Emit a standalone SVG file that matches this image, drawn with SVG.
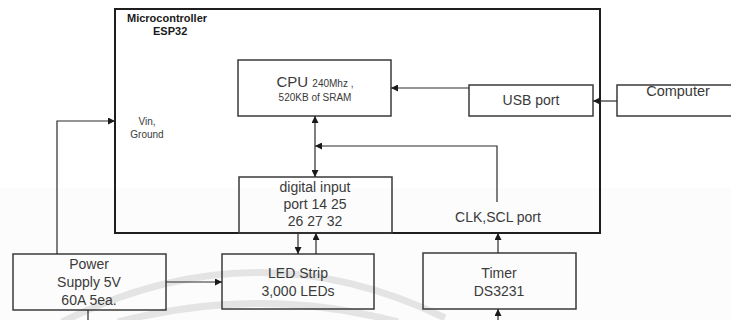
<svg xmlns="http://www.w3.org/2000/svg" width="731" height="320" viewBox="0 0 731 320">
<style>
.box{fill:none;stroke:#3a3a3a;stroke-width:1.5}
.mc{fill:none;stroke:#1e1e1e;stroke-width:2}
.ln{fill:none;stroke:#2a2a2a;stroke-width:1.2}
.t{font-family:"Liberation Sans",Arial,sans-serif;fill:#3a3a3a;text-anchor:middle}
.b{font-weight:bold;fill:#1a1a1a;text-anchor:start}
.wm{fill:none;stroke:#e4e4e4;stroke-width:7}
</style>
<defs>
<marker id="ah" viewBox="0 0 10 10" refX="10" refY="5" markerWidth="7" markerHeight="7" markerUnits="userSpaceOnUse" orient="auto">
<path d="M0,0 L10,5 L0,10 z" fill="#1a1a1a"/>
</marker>
</defs>
<rect width="731" height="320" fill="#ffffff"/>
<rect x="0" y="188" width="731" height="132" fill="#fcfcfc"/>
<g id="watermark">
<path class="wm" d="M62,322 Q255,225 445,318"/>
<path class="wm" d="M118,322 Q260,285 398,322"/>
</g>
<g id="microcontroller">
<rect class="mc" x="115" y="9" width="485" height="224"/>
<text class="t b" x="127" y="22" font-size="11">Microcontroller</text>
<text class="t b" x="153" y="35" font-size="11">ESP32</text>
<text class="t" x="147" y="125" font-size="10">Vin,</text>
<text class="t" x="147" y="138" font-size="10">Ground</text>
<text class="t" x="498" y="222" font-size="14">CLK,SCL port</text>
</g>
<g id="cpu">
<rect class="box" x="238" y="60" width="153" height="56" fill="#fff"/>
<text class="t" x="315" y="87"><tspan font-size="15">CPU </tspan><tspan font-size="10">240Mhz ,</tspan></text>
<text class="t" x="315" y="101" font-size="10">520KB of SRAM</text>
</g>
<g id="usb">
<rect class="box" x="469" y="85" width="124" height="31"/>
<text class="t" x="531" y="105" font-size="14">USB port</text>
</g>
<g id="computer">
<rect class="box" x="617" y="85" width="120" height="31"/>
<text class="t" x="678" y="96" font-size="14.5">Computer</text>
</g>
<g id="digital">
<rect class="box" x="239" y="177" width="153" height="56"/>
<text class="t" x="315" y="192" font-size="14">digital input</text>
<text class="t" x="315" y="209" font-size="14">port 14 25</text>
<text class="t" x="315" y="226" font-size="14">26 27 32</text>
</g>
<g id="power">
<rect class="box" x="13" y="254" width="153" height="56"/>
<text class="t" x="89" y="269" font-size="14">Power</text>
<text class="t" x="89" y="287" font-size="14">Supply 5V</text>
<text class="t" x="89" y="305" font-size="14">60A 5ea.</text>
</g>
<g id="led">
<rect class="box" x="222" y="254" width="152" height="55"/>
<text class="t" x="298" y="278" font-size="14">LED Strip</text>
<text class="t" x="298" y="296" font-size="14">3,000 LEDs</text>
</g>
<g id="timer">
<rect class="box" x="423" y="253" width="153" height="56"/>
<text class="t" x="499" y="278" font-size="14">Timer</text>
<text class="t" x="499" y="296" font-size="14">DS3231</text>
</g>
<g id="connectors">
<path class="ln" d="M469,88 H391" marker-end="url(#ah)"/>
<path class="ln" d="M617,101 H593" marker-end="url(#ah)"/>
<path class="ln" d="M315,146 V116" marker-end="url(#ah)"/>
<path class="ln" d="M315,146 V177" marker-end="url(#ah)"/>
<path class="ln" d="M497,202 V146 H315" marker-end="url(#ah)"/>
<path class="ln" d="M57,254 V121 H115" marker-end="url(#ah)"/>
<path class="ln" d="M166,282 H222" marker-end="url(#ah)"/>
<path class="ln" d="M298,233 V254" marker-end="url(#ah)"/>
<path class="ln" d="M316,254 V233" marker-end="url(#ah)"/>
<path class="ln" d="M498,253 V233" marker-end="url(#ah)"/>
<path class="ln" d="M498,320 V309" marker-end="url(#ah)"/>
<path class="ln" d="M88,310 V320"/>
</g>
</svg>
